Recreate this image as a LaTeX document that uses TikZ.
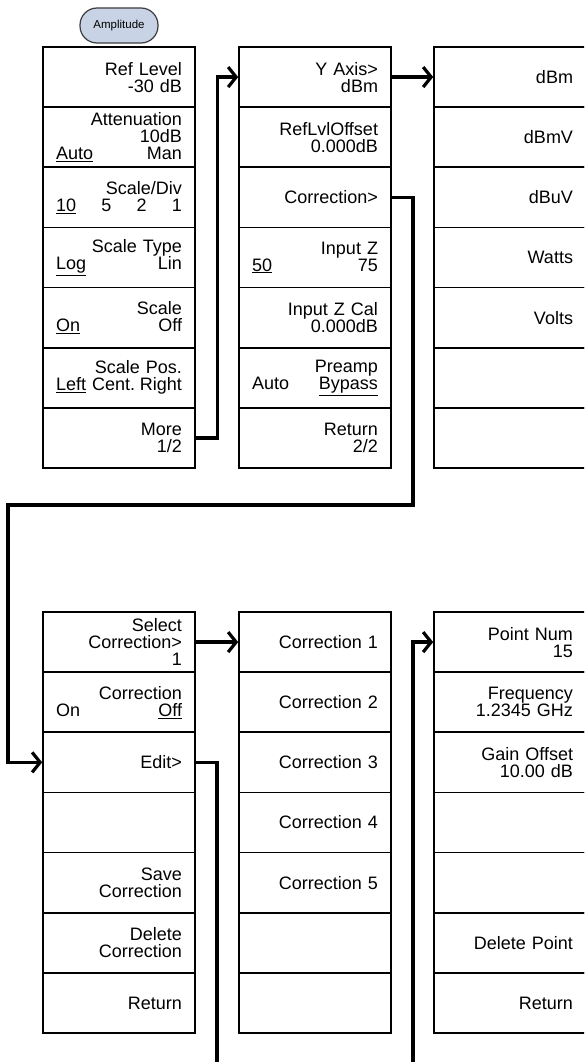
\documentclass[tikz,border=0pt]{standalone}
\usepackage{fontspec}
\setmainfont{Liberation Sans}
\usetikzlibrary{arrows.meta,positioning}
\definecolor{keyblue}{RGB}{200,212,230}
\definecolor{keyedge}{RGB}{60,60,60}
\newcommand{\hgap}{\hspace{\fill}}

\begin{document}
\begin{tikzpicture}[x=1pt, y=-1pt,
        softkey/.style={draw, line width=1.6pt, minimum width=152pt, minimum height=60.14pt, text width=126pt, inner sep=0pt, align=right, font=\fontsize{18}{17}\selectfont},
        hardkey/.style={draw=keyedge, fill=keyblue, line width=1.2pt, rounded corners=17pt, minimum width=78pt, minimum height=35pt, inner sep=0pt, font=\fontsize{11.5}{12}\selectfont},
        link/.style={line width=3.2pt, -{Straight Barb[length=8pt,width=20pt]}}]
        \useasboundingbox (0,0) rectangle (584,1062);
        \clip (0,0) rectangle (584,1062);
        \node[hardkey] (amp) at (119,25.5) {Amplitude};
        \node[softkey] (a1) at (119,77.07) {Ref Level\\-30 dB};
        \node[softkey] (a2) at (119,137.21) {Attenuation\\10dB\\\underline{Auto}\hgap Man};
        \node[softkey] (a3) at (119,197.35) {Scale/Div\\\underline{10}\hgap 5\hgap 2\hgap 1};
        \node[softkey] (a4) at (119,257.49) {Scale Type\\\underline{Log}\hgap Lin};
        \node[softkey] (a5) at (119,317.63) {Scale\\\underline{On}\hgap Off};
        \node[softkey] (a6) at (119,377.77) {Scale Pos.\\\underline{Left} Cent.\hgap Right};
        \node[softkey] (a7) at (119,437.91) {More\\1/2};
        \node[softkey] (b1) at (315,77.07) {Y Axis>\\dBm};
        \node[softkey] (b2) at (315,137.21) {RefLvlOffset\\0.000dB};
        \node[softkey] (b3) at (315,197.35) {Correction>};
        \node[softkey] (b4) at (315,257.49) {Input Z\\\underline{50}\hgap 75};
        \node[softkey] (b5) at (315,317.63) {Input Z Cal\\0.000dB};
        \node[softkey] (b6) at (315,377.77) {Preamp\\Auto\hgap\underline{Bypass}};
        \node[softkey] (b7) at (315,437.91) {Return\\2/2};
        \node[softkey] (c1) at (510,77.07) {dBm};
        \node[softkey] (c2) at (510,137.21) {dBmV};
        \node[softkey] (c3) at (510,197.35) {dBuV};
        \node[softkey] (c4) at (510,257.49) {Watts};
        \node[softkey] (c5) at (510,317.63) {Volts};
        \node[softkey] (c6) at (510,377.77) {};
        \node[softkey] (c7) at (510,437.91) {};
        \node[softkey] (d1) at (119,642.07) {Select\\Correction>\\1};
        \node[softkey] (d2) at (119,702.21) {Correction\\On\hgap\underline{Off}};
        \node[softkey] (d3) at (119,762.35) {Edit>};
        \node[softkey] (d4) at (119,822.49) {};
        \node[softkey] (d5) at (119,882.63) {Save\\Correction};
        \node[softkey] (d6) at (119,942.77) {Delete\\Correction};
        \node[softkey] (d7) at (119,1002.91) {Return};
        \node[softkey] (e1) at (315,642.07) {Correction 1};
        \node[softkey] (e2) at (315,702.21) {Correction 2};
        \node[softkey] (e3) at (315,762.35) {Correction 3};
        \node[softkey] (e4) at (315,822.49) {Correction 4};
        \node[softkey] (e5) at (315,882.63) {Correction 5};
        \node[softkey] (e6) at (315,942.77) {};
        \node[softkey] (e7) at (315,1002.91) {};
        \node[softkey] (f1) at (510,642.07) {Point Num\\15};
        \node[softkey] (f2) at (510,702.21) {Frequency\\1.2345 GHz};
        \node[softkey] (f3) at (510,762.35) {Gain Offset\\10.00 dB};
        \node[softkey] (f4) at (510,822.49) {};
        \node[softkey] (f5) at (510,882.63) {};
        \node[softkey] (f6) at (510,942.77) {Delete Point};
        \node[softkey] (f7) at (510,1002.91) {Return};
        \coordinate (turnA) at (413,505);
        \coordinate (turnB) at (8,505);
        \coordinate (dropA) at (217,1090);
        \coordinate (dropB) at (413,1090);
        \draw[link] (a7.east) -- ++(22,0) |- (b1.west);
        \draw[link] (b1.east) -- (c1.west);
        \draw[link] (b3.east) -| (turnA) -- (turnB) |- (d3.west);
        \draw[link] (d1.east) -- (e1.west);
        \draw[link] (d3.east) -| (dropA) -- (dropB) |- (f1.west);
    \end{tikzpicture}
\end{document}
